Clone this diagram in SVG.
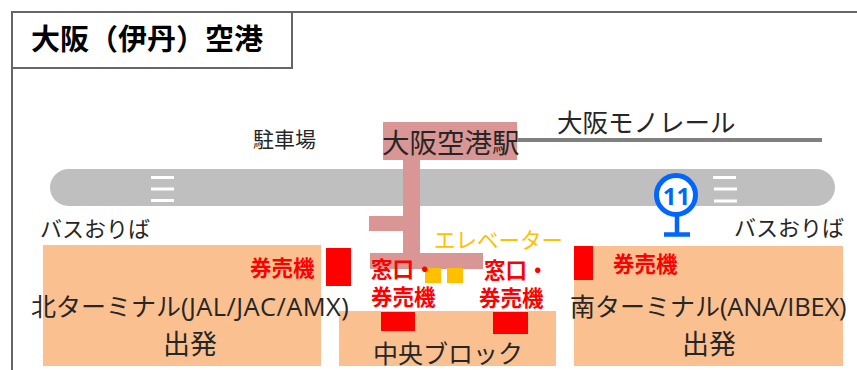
<svg xmlns="http://www.w3.org/2000/svg" width="857" height="370" viewBox="0 0 857 370">
<style>
text{font-family:"Open Sans","Noto Sans CJK JP",sans-serif;fill:#262626}
.big{font-size:25px}
.dep{font-size:27px}
.lab{font-size:22px}
.red{font-size:21.500px;font-weight:700;fill:#f00}
.lat{font-size:25.500px}
.term{fill:#fac090}
.st{fill:#d99694}
.r{fill:#f00}
.y{fill:#ffc000}
.w{stroke:#fff;stroke-width:3;fill:none}
</style>
<rect width="857" height="370" fill="#fff"/>
<g id="frame" fill="none" stroke="#666" stroke-width="2">
<path d="M857 12H12V370"/>
<rect x="12" y="12" width="280" height="56" fill="#fff"/>
</g>
<text x="31" y="50" font-size="29" font-weight="700" style="fill:#000">大阪（伊丹）空港</text>
<text x="253" y="147" font-size="21">駐車場</text>
<g id="road">
<rect x="50" y="169" width="785" height="37" rx="18.500" fill="#bfbfbf"/>
<path class="w" d="M151 177.500H174M151 189H174M151 200.500H174M713 177.500H736M714 189H737M714 201H737"/>
</g>
<g id="connectors">
<path d="M518 140H822" stroke="#808080" stroke-width="4" fill="none"/>
</g>
<g id="terminals">
<rect id="north" class="term" x="43" y="245" width="278" height="121"/>
<rect id="central" class="term" x="339" y="311" width="217" height="55"/>
<rect id="south" class="term" x="574" y="246" width="269" height="120"/>
</g>
<g id="station">
<rect class="st" x="383" y="122" width="134" height="38"/>
<rect class="st" x="403" y="160" width="17" height="95"/>
<rect class="st" x="369" y="216" width="34" height="15"/>
<rect class="st" x="370" y="253" width="113" height="16"/>
<text x="382" y="153" font-size="27.500">大阪空港駅</text>
</g>
<g id="ticket-points">
<rect class="r" x="326" y="248" width="25" height="38"/>
<rect class="r" x="381" y="312" width="34" height="19"/>
<rect class="r" x="493" y="312" width="35" height="22"/>
<rect class="r" x="574" y="246" width="19" height="34"/>
<rect class="y" x="425" y="268" width="16" height="15"/>
<rect class="y" x="447" y="268" width="16" height="15"/>
</g>
<g id="bus-stop">
<circle cx="676" cy="195" r="19.500" stroke-width="5" fill="#fff" stroke="#0066ff"/>
<path d="M677 215V234M664 234.500H690" stroke-width="4.500" fill="none" stroke="#0066ff"/>
<text x="676.500" y="205" text-anchor="middle" font-size="24" font-weight="700" style="fill:#0066ff">11</text>
</g>
<g id="labels">
<text x="557" y="132" font-size="25.500">大阪モノレール</text>
<text x="40" y="237" class="lab">バスおりば</text>
<text x="734" y="236" class="lab">バスおりば</text>
<text x="434" y="248" font-size="21.500" style="fill:#ffc000">エレベーター</text>
<text x="250" y="276" class="red">券売機</text>
<text x="371" y="277" class="red">窓口・</text>
<text x="371" y="305" class="red">券売機</text>
<text x="484" y="278" class="red">窓口・</text>
<text x="479" y="306" class="red">券売機</text>
<text x="613" y="272" class="red">券売機</text>
<text x="31" y="316" class="big">北ターミナル<tspan class="lat" letter-spacing=".4">(JAL/JAC/AMX)</tspan></text>
<text x="163" y="354" class="dep">出発</text>
<text x="373" y="363" class="big">中央ブロック</text>
<text x="570" y="316" class="big">南ターミナル<tspan class="lat" letter-spacing="-.2">(ANA/IBEX)</tspan></text>
<text x="682" y="354" class="dep">出発</text>
</g>
</svg>
